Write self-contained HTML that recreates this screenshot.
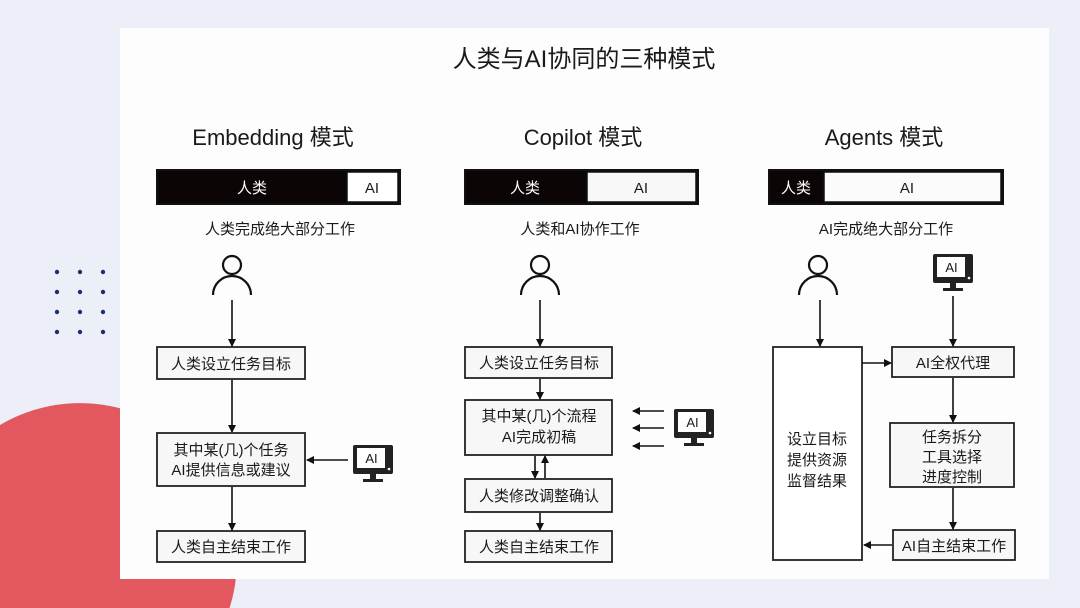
<!DOCTYPE html>
<html><head><meta charset="utf-8"><style>
html,body{margin:0;padding:0;width:1080px;height:608px;overflow:hidden;background:#eceef8;}
svg{display:block;position:absolute;left:0;top:0}
text{font-family:"Liberation Sans","Noto Sans CJK SC",sans-serif;fill:#1a1a1a;}
</style></head><body>
<svg width="1080" height="608" viewBox="0 0 1080 608" xmlns="http://www.w3.org/2000/svg">
<defs>
<marker id="a" markerWidth="8" markerHeight="8" refX="7" refY="4" orient="auto" markerUnits="userSpaceOnUse"><path d="M0,0 L8,4 L0,8 z" fill="#111"/></marker>
<g id="person"><circle cx="0" cy="-22" r="9" fill="none" stroke="#111" stroke-width="2.2"/><path d="M-19,8 A19,19 0 0 1 19,8" fill="none" stroke="#111" stroke-width="2.2"/></g>
<g id="mon"><rect x="-20" y="-18" width="40" height="29" rx="2" fill="#222"/><rect x="-16" y="-15" width="28" height="20" fill="#fff"/><circle cx="16" cy="6" r="1.3" fill="#fff"/><rect x="-3" y="11" width="6" height="6" fill="#222"/><rect x="-10" y="16" width="20" height="3" fill="#222"/><text x="-1.5" y="0" font-size="13" text-anchor="middle">AI</text></g>
</defs>
<path d="M0,608 L0,425 A157,157 0 0 1 229.5,608 Z" fill="#e3585f"/>
<g fill="#1b2f6e">
<circle cx="57" cy="272" r="2.2"/><circle cx="80" cy="272" r="2.2"/><circle cx="103" cy="272" r="2.2"/>
<circle cx="57" cy="292" r="2.2"/><circle cx="80" cy="292" r="2.2"/><circle cx="103" cy="292" r="2.2"/>
<circle cx="57" cy="312" r="2.2"/><circle cx="80" cy="312" r="2.2"/><circle cx="103" cy="312" r="2.2"/>
<circle cx="57" cy="332" r="2.2"/><circle cx="80" cy="332" r="2.2"/><circle cx="103" cy="332" r="2.2"/>
</g>
<rect x="120" y="28" width="929" height="551" fill="#fdfdfd"/>
<text x="584" y="67" font-size="24" text-anchor="middle">人类与AI协同的三种模式</text>
<text x="273" y="145" font-size="22" text-anchor="middle">Embedding 模式</text>
<text x="583" y="145" font-size="22" text-anchor="middle">Copilot 模式</text>
<text x="884" y="145" font-size="22" text-anchor="middle">Agents 模式</text>

<g stroke="#111" stroke-width="2" fill="none">
<rect x="157" y="170" width="243" height="34" fill="#0b0505"/>
<rect x="347" y="172" width="51" height="30" fill="#fff" stroke-width="1.5"/>
<rect x="465" y="170" width="233" height="34" fill="#0b0505"/>
<rect x="587" y="172" width="109" height="30" fill="#f8f8f8" stroke-width="1.5"/>
<rect x="769" y="170" width="234" height="34" fill="#0b0505"/>
<rect x="824" y="172" width="177" height="30" fill="#fbfbfb" stroke-width="1.5"/>
</g>
<text x="252" y="193" font-size="15" text-anchor="middle" style="fill:#fff">人类</text>
<text x="372" y="193" font-size="15" text-anchor="middle">AI</text>
<text x="525" y="193" font-size="15" text-anchor="middle" style="fill:#fff">人类</text>
<text x="641" y="193" font-size="15" text-anchor="middle">AI</text>
<text x="796" y="193" font-size="15" text-anchor="middle" style="fill:#fff">人类</text>
<text x="907" y="193" font-size="15" text-anchor="middle">AI</text>

<text x="280" y="234" font-size="15" text-anchor="middle">人类完成绝大部分工作</text>
<text x="580" y="234" font-size="15" text-anchor="middle">人类和AI协作工作</text>
<text x="886" y="234" font-size="15" text-anchor="middle">AI完成绝大部分工作</text>

<use href="#person" x="232" y="287"/>
<use href="#person" x="540" y="287"/>
<use href="#person" x="818" y="287"/>
<use href="#mon" x="953" y="272"/>
<use href="#mon" x="373" y="463"/>
<use href="#mon" x="694" y="427"/>

<g stroke="#222" stroke-width="1.8" fill="#f7f7f7">
<rect x="157" y="347" width="148" height="32"/>
<rect x="157" y="433" width="148" height="53"/>
<rect x="157" y="531" width="148" height="31"/>
<rect x="465" y="347" width="147" height="31"/>
<rect x="465" y="400" width="147" height="55"/>
<rect x="465" y="479" width="147" height="33"/>
<rect x="465" y="531" width="147" height="31"/>
<rect x="773" y="347" width="89" height="213" fill="#fff"/>
<rect x="892" y="347" width="122" height="30"/>
<rect x="890" y="423" width="124" height="64"/>
<rect x="893" y="530" width="122" height="30"/>
</g>
<g font-size="15" text-anchor="middle">
<text x="231" y="369">人类设立任务目标</text>
<text x="231" y="455">其中某(几)个任务</text>
<text x="231" y="475">AI提供信息或建议</text>
<text x="231" y="552">人类自主结束工作</text>
<text x="539" y="368">人类设立任务目标</text>
<text x="539" y="421">其中某(几)个流程</text>
<text x="539" y="442">AI完成初稿</text>
<text x="539" y="501">人类修改调整确认</text>
<text x="539" y="552">人类自主结束工作</text>
<text x="817" y="444">设立目标</text>
<text x="817" y="465">提供资源</text>
<text x="817" y="486">监督结果</text>
<text x="953" y="368">AI全权代理</text>
<text x="952" y="442">任务拆分</text>
<text x="952" y="462">工具选择</text>
<text x="952" y="482">进度控制</text>
<text x="954" y="551">AI自主结束工作</text>
</g>
<g stroke="#111" stroke-width="1.6" marker-end="url(#a)">
<line x1="232" y1="300" x2="232" y2="346"/>
<line x1="232" y1="380" x2="232" y2="432"/>
<line x1="232" y1="487" x2="232" y2="530"/>
<line x1="348" y1="460" x2="307" y2="460"/>
<line x1="540" y1="300" x2="540" y2="346"/>
<line x1="540" y1="379" x2="540" y2="399"/>
<line x1="535" y1="456" x2="535" y2="478"/>
<line x1="545" y1="478" x2="545" y2="456"/>
<line x1="540" y1="513" x2="540" y2="530"/>
<line x1="664" y1="411" x2="633" y2="411"/>
<line x1="664" y1="428" x2="633" y2="428"/>
<line x1="664" y1="446" x2="633" y2="446"/>
<line x1="820" y1="300" x2="820" y2="346"/>
<line x1="953" y1="296" x2="953" y2="346"/>
<line x1="862" y1="363" x2="891" y2="363"/>
<line x1="953" y1="378" x2="953" y2="422"/>
<line x1="953" y1="488" x2="953" y2="529"/>
<line x1="892" y1="545" x2="864" y2="545"/>
</g>
</svg>
</body></html>
